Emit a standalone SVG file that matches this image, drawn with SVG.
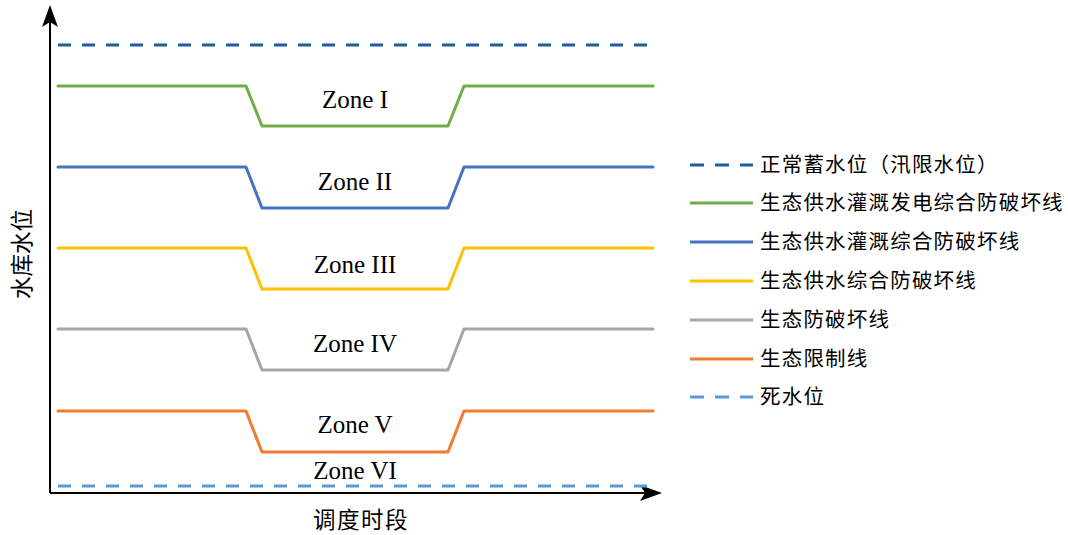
<svg xmlns="http://www.w3.org/2000/svg" width="1068" height="535" viewBox="0 0 1068 535">
<style>
.ln{fill:none;stroke-width:3;stroke-linejoin:round;stroke-linecap:round}
.dash{fill:none;stroke-width:3;stroke-dasharray:13 11}
.zone{font-family:"Liberation Serif","Times New Roman",serif;font-size:25px;fill:#000;text-anchor:middle}
.leg{font-family:"Noto Sans CJK SC","Noto Sans",sans-serif;font-size:20.5px;fill:#000;letter-spacing:1.2px}
.ax{font-family:"Noto Sans CJK SC",sans-serif;font-size:22.5px;fill:#000}
</style>
<rect width="1068" height="535" fill="#fff"/>
<g id="axes">
<line x1="50" y1="493" x2="50" y2="20" stroke="#000" stroke-width="2"/>
<line x1="50" y1="493" x2="650" y2="493" stroke="#000" stroke-width="2"/>
<path d="M50,5 L58,27 L50,22 L42,27 Z" fill="#000"/>
<path d="M662,493 L640,501 L645,493 L640,485 Z" fill="#000"/>
<text class="ax" transform="translate(30,254) rotate(-90)" text-anchor="middle">水库水位</text>
<text class="ax" x="361" y="528" text-anchor="middle" letter-spacing="1.5">调度时段</text>
</g>
<g id="lines">
<line class="dash" x1="58" y1="45" x2="655" y2="45" stroke="#1f5f9e"/>
<path class="ln" stroke="#70ad47" d="M58,86 H246 L262,126 H448 L464,86 H653"/>
<path class="ln" stroke="#4472c4" d="M58,167 H246 L262,208 H448 L464,167 H653"/>
<path class="ln" stroke="#ffc000" d="M58,248 H246 L262,289 H448 L464,248 H653"/>
<path class="ln" stroke="#a5a5a5" d="M58,329 H246 L262,370 H448 L464,329 H653"/>
<path class="ln" stroke="#ed7d31" d="M58,411 H246 L262,452 H448 L464,411 H653"/>
<line class="dash" x1="58" y1="486" x2="655" y2="486" stroke="#5b9bd5"/>
</g>
<g id="zones">
<text class="zone" x="355" y="108">Zone I</text>
<text class="zone" x="355" y="190">Zone II</text>
<text class="zone" x="355" y="273">Zone III</text>
<text class="zone" x="355" y="352">Zone IV</text>
<text class="zone" x="355" y="433">Zone V</text>
<text class="zone" x="355" y="479">Zone VI</text>
</g>
<g id="legend">
<line x1="690" y1="165" x2="753" y2="165" stroke="#1f5f9e" stroke-width="3" stroke-dasharray="14 11"/>
<text class="leg" x="760" y="172">正常蓄水位（汛限水位）</text>
<line x1="690" y1="203" x2="753" y2="203" stroke="#70ad47" stroke-width="3"/>
<text class="leg" x="760" y="210">生态供水灌溉发电综合防破坏线</text>
<line x1="690" y1="242" x2="753" y2="242" stroke="#4472c4" stroke-width="3"/>
<text class="leg" x="760" y="249">生态供水灌溉综合防破坏线</text>
<line x1="690" y1="281" x2="753" y2="281" stroke="#ffc000" stroke-width="3"/>
<text class="leg" x="760" y="288">生态供水综合防破坏线</text>
<line x1="690" y1="320" x2="753" y2="320" stroke="#a5a5a5" stroke-width="3"/>
<text class="leg" x="760" y="327">生态防破坏线</text>
<line x1="690" y1="359" x2="753" y2="359" stroke="#ed7d31" stroke-width="3"/>
<text class="leg" x="760" y="366">生态限制线</text>
<line x1="690" y1="397" x2="753" y2="397" stroke="#5b9bd5" stroke-width="3" stroke-dasharray="14 11"/>
<text class="leg" x="760" y="404">死水位</text>
</g>
</svg>
